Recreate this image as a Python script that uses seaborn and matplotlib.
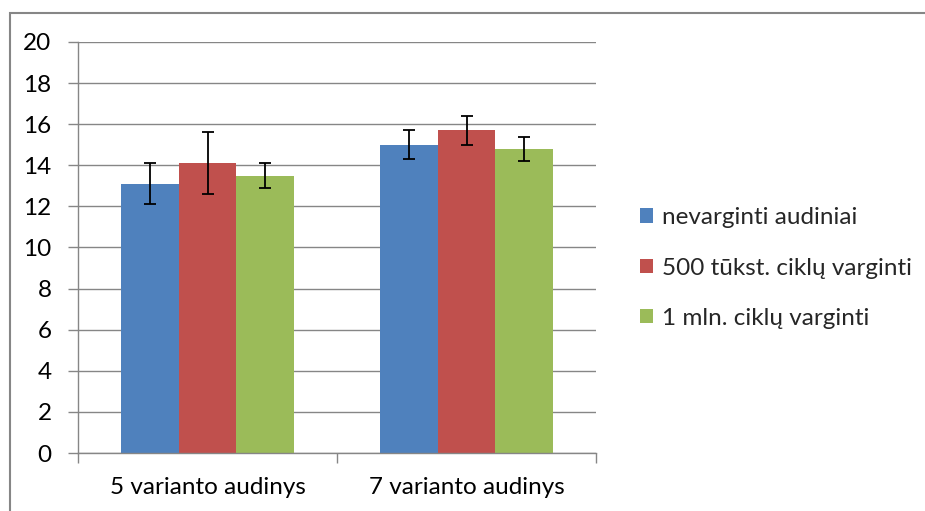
import matplotlib
matplotlib.use("Agg")
import matplotlib.pyplot as plt
import seaborn as sns
import pandas as pd
from matplotlib.patches import Rectangle

categories = ["5 varianto audinys", "7 varianto audinys"]
series = ["nevarginti audiniai", "500 tūkst. ciklų varginti", "1 mln. ciklų varginti"]
values_nevarginti = [13.1, 15.0]
values_500k = [14.1, 15.7]
values_1mln = [13.5, 14.8]
err_nevarginti = [1.0, 0.7]
err_500k = [1.5, 0.7]
err_1mln = [0.6, 0.6]
colors = ["#4F81BD", "#C0504D", "#9BBB59"]
yticks = [0, 2, 4, 6, 8, 10, 12, 14, 16, 18, 20]

rows = []
for s, vals, errs in zip(series, [values_nevarginti, values_500k, values_1mln],
                         [err_nevarginti, err_500k, err_1mln]):
    for c, v, e in zip(categories, vals, errs):
        rows.append({"kategorija": c, "serija": s, "reikšmė": v, "paklaida": e})
df = pd.DataFrame(rows)

sns.set_theme(style="white")
plt.rcParams["font.family"] = ["Lato", "DejaVu Sans"]

FS = 17.5
fig = plt.figure(figsize=(9.25, 5.11), dpi=100)
ax = fig.add_axes([78 / 925, 1 - 453 / 511, (596 - 78) / 925, (453 - 42) / 511])

sns.barplot(data=df, x="kategorija", y="reikšmė", hue="serija",
            order=categories, hue_order=series, palette=colors,
            width=2 / 3, errorbar=None, saturation=1, linewidth=0, ax=ax)

# error bars at each bar's centre
for s, container in zip(series, ax.containers):
    sub = df[df["serija"] == s].set_index("kategorija").loc[categories]
    xs = [p.get_x() + p.get_width() / 2 for p in container.patches]
    ax.errorbar(xs, sub["reikšmė"], yerr=sub["paklaida"], fmt="none",
                ecolor="black", elinewidth=1.3, capsize=4.5, capthick=1.3, zorder=5)

grid_c = "#868686"
ax.set_ylim(0, 20)
ax.set_xlim(-0.5, 1.5)
ax.set_yticks(yticks)
ax.set_yticklabels([str(t) for t in yticks])
ax.yaxis.grid(True, color=grid_c, linewidth=1.0)
ax.set_axisbelow(True)
for sp in ["top", "right"]:
    ax.spines[sp].set_visible(False)
for sp in ["left", "bottom"]:
    ax.spines[sp].set_color(grid_c)
    ax.spines[sp].set_linewidth(1.0)
ax.set_xlabel("")
ax.set_ylabel("")

# category boundary ticks on x axis
ax.set_xticks([-0.5, 0.5, 1.5], minor=False)
ax.set_xticklabels([])
ax.set_xticks([0, 1], minor=True)
ax.set_xticklabels(categories, minor=True)
ax.tick_params(axis="x", which="major", length=7, color=grid_c, width=1, direction="out", bottom=True)
ax.tick_params(axis="x", which="minor", length=0, labelsize=FS, pad=17, colors="black")
ax.tick_params(axis="y", length=7, color=grid_c, width=1, direction="out", left=True, labelsize=FS, pad=12)
for lab in ax.get_yticklabels() + ax.get_xticklabels(minor=True):
    lab.set_color("black")

leg = ax.legend(loc="center left", bbox_to_anchor=(1.042, 0.45), frameon=False,
                fontsize=FS, handlelength=0.55, handleheight=0.55, labelspacing=1.2,
                handletextpad=0.35)

fig.patches.append(Rectangle((10 / 925, -0.1), 1.2, 1 - 13 / 511 + 0.1,
                             transform=fig.transFigure, fill=False,
                             edgecolor=grid_c, linewidth=1.5))

fig.savefig("out.png", dpi=100)
